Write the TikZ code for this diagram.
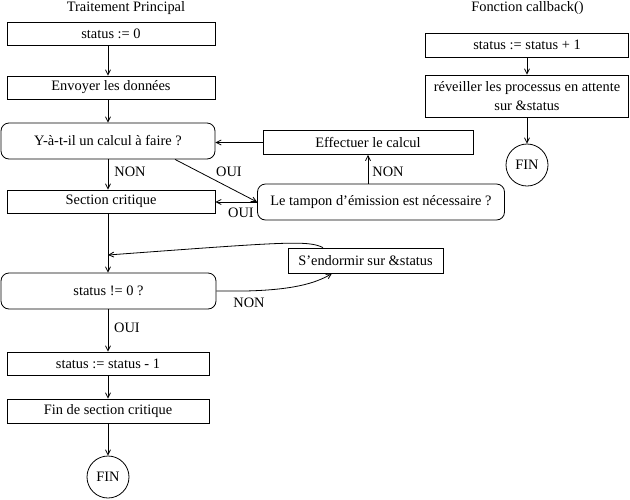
\documentclass[tikz,border=0pt]{standalone}
\usepackage{fontspec}
\setmainfont{Liberation Serif}
\usetikzlibrary{arrows.meta,calc}
\tikzset{
  box/.style={draw, rectangle, inner sep=0pt, line width=0.8pt},
  rbox/.style={draw, rectangle, rounded corners=8pt, inner sep=0pt, line width=0.8pt},
  endc/.style={draw, circle, minimum size=42pt, inner sep=0pt, line width=0.8pt},
  lbl/.style={inner sep=0pt},
  arr/.style={line width=0.8pt, -{Straight Barb[length=5pt,width=5pt]}},
  ln/.style={line width=0.8pt}
}
\begin{document}
\begin{tikzpicture}[x=1pt,y=-1pt,font=\fontsize{14.4}{19}\selectfont]
\useasboundingbox (0,0) rectangle (630,499);
% titles
\node[lbl] (t1) at (126,8) {Traitement Principal};
\node[lbl] (t2) at (527.5,8) {Fonction callback()};
% main column
\node[box, minimum width=208pt, minimum height=23pt] (s0) at (111,33.5) {status := 0};
\node[box, minimum width=208pt, minimum height=23pt] (env) at (111,87.5) {Envoyer les données};
\node[rbox, minimum width=214pt, minimum height=36pt] (calc) at (108,141) {Y-à-t-il un calcul à faire ?};
\node[box, minimum width=208pt, minimum height=23pt] (sect) at (111,201.5) {Section critique};
\node[rbox, minimum width=215pt, minimum height=36pt] (test) at (108.5,291) {status != 0 ?};
\node[box, minimum width=202pt, minimum height=23pt] (dec) at (108,363.5) {status := status - 1};
\node[box, minimum width=202pt, minimum height=24pt] (fsc) at (108,411) {Fin de section critique};
\node[endc] (fin1) at (108,477) {FIN};
% right side
\node[box, minimum width=210pt, minimum height=24pt] (eff) at (368,142.5) {Effectuer le calcul};
\node[rbox, minimum width=247pt, minimum height=36pt] (tamp) at (381,202) {Le tampon d’émission est nécessaire ?};
\node[box, minimum width=155pt, minimum height=25pt] (sleep) at (365.5,260.5) {S’endormir sur \&status};
% callback column
\node[box, minimum width=203pt, minimum height=24pt] (inc) at (527,45) {status := status + 1};
\node[box, minimum width=203pt, minimum height=42pt, align=center] (wake) at (527,96) {réveiller les processus en attente\\sur \&status};
\node[endc] (fin2) at (527,165) {FIN};
% merge point
\coordinate (merge) at (108,255);
% connectors main
\draw[arr] (s0.south -| fin1) -- (env.north -| fin1);
\draw[arr] (env.south -| fin1) -- (calc.north -| fin1);
\draw[arr] (calc.south -| fin1) -- (sect.north -| fin1);
\node[lbl] (l1) at (130,172) {NON};
\draw[arr] ([xshift=67pt]calc.south) -- (tamp.west);
\node[lbl] (l2) at (229,172) {OUI};
\draw[arr] (tamp.west) -- (tamp.west -| sect.east);
\node[lbl] (l3) at (241,213) {OUI};
\draw[arr] (tamp.north -| eff.south) -- (eff.south);
\node[lbl] (l4) at (388,172) {NON};
\draw[arr] (eff.west) -- (eff.west -| calc.east);
\draw[arr] (sect.south -| fin1) -- (test.north -| fin1);
\draw[arr] (test.east) -- (245,291) .. controls (290,290) and (315,284) .. ([xshift=-33.5pt]sleep.south);
\node[lbl] (l5) at (249,303) {NON};
\draw[arr] ([xshift=-42.5pt]sleep.north) .. controls (308,240) and (285,242) .. (merge);
\draw[arr] (test.south -| fin1) -- (dec.north -| fin1);
\node[lbl] (l6) at (127,328) {OUI};
\draw[arr] (dec.south -| fin1) -- (fsc.north -| fin1);
\draw[arr] (fsc.south -| fin1) -- (fin1.north);
% callback connectors
\draw[arr] (inc.south) -- (wake.north);
\draw[arr] (wake.south) -- (fin2.north);
\end{tikzpicture}
\end{document}
